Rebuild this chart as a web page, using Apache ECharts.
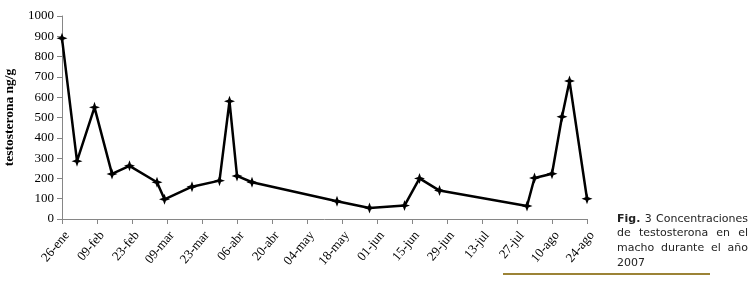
<!DOCTYPE html>
<html><head><meta charset="utf-8">
<script src="https://cdn.jsdelivr.net/npm/echarts@6/dist/echarts.min.js"></script>
<style>html,body{margin:0;padding:0;background:#fff}#c{width:753px;height:283px}</style>
</head><body><div id="c"></div>
<script>
const startDate = '2007-01-26';
const tickLabels = ['26-ene','09-feb','23-feb','09-mar','23-mar','06-abr','20-abr','04-may','18-may','01-jun','15-jun','29-jun','13-jul','27-jul','10-ago','24-ago'];
const sampleDates = ['2007-01-26','2007-02-01','2007-02-08','2007-02-15','2007-02-22','2007-03-05','2007-03-08','2007-03-19','2007-03-30','2007-04-03','2007-04-06','2007-04-12','2007-05-16','2007-05-29','2007-06-12','2007-06-18','2007-06-26','2007-07-31','2007-08-03','2007-08-10','2007-08-14','2007-08-17','2007-08-24'];
const testosterone = [890,285,550,222,262,181,97,159,189,580,212,181,87,54,66,200,140,64,202,223,504,680,100];
const captionLines = [['Fig.', '3', 'Concentraciones'], ['de', 'testosterona', 'en', 'el'], ['macho', 'durante', 'el', 'año'], ['2007']];

const DAY = 86400000;
const t0 = Date.parse(startDate + 'T00:00:00Z');
const dayOf = d => Math.round((Date.parse(d + 'T00:00:00Z') - t0) / DAY);
const seriesData = sampleDates.map((d, i) => [dayOf(d), testosterone[i]]);

const star = 'path://M0,-6 L1.6,-1.6 L6,0 L1.6,1.6 L0,6 L-1.6,1.6 L-6,0 L-1.6,-1.6 Z';

// caption layout (justified like the source)
const capFamily = '"DejaVu Sans"';
const capColor = '#222';
const capLeft = 617, capRight = 748, capTop = 219, capStep = 14.6;
const mctx = document.createElement('canvas').getContext('2d');
mctx.font = '100px ' + capFamily;
const capSize = Math.min(11.2, 92 / mctx.measureText('Concentraciones').width * 100);
function measure(w, bold) { mctx.font = (bold ? 'bold ' : '') + capSize + 'px ' + capFamily; return mctx.measureText(w).width; }
const captionGraphics = [];
captionLines.forEach((words, li) => {
  const y = capTop + li * capStep;
  const widths = words.map((w, wi) => measure(w, li === 0 && wi === 0));
  const total = widths.reduce((a, b) => a + b, 0);
  const last = li === captionLines.length - 1;
  const gap = (last || words.length < 2) ? capSize * 0.3 : (capRight - capLeft - total) / (words.length - 1);
  let x = capLeft;
  words.forEach((w, wi) => {
    captionGraphics.push({ type: 'text', x: x, y: y, style: { text: w, fontSize: capSize, fontFamily: capFamily, fontWeight: (li === 0 && wi === 0) ? 'bold' : 'normal', fill: capColor, align: 'left', verticalAlign: 'middle' } });
    x += widths[wi] + gap;
  });
});

const chart = echarts.init(document.getElementById('c'), null, { renderer: 'canvas' });
chart.setOption({
  animation: false,
  grid: { left: 62, right: 166, top: 16, bottom: 64, outerBoundsMode: 'none', containLabel: false },
  xAxis: {
    type: 'value', min: 0, max: 210, interval: 14,
    axisLine: { show: true, lineStyle: { color: '#868686', width: 1 } },
    axisTick: { show: true, length: 5, lineStyle: { color: '#868686' } },
    splitLine: { show: false },
    axisLabel: {
      rotate: 50, color: '#000', fontFamily: '"Liberation Serif", serif', fontSize: 13, margin: 10,
      align: 'right', verticalAlign: 'top',
      formatter: v => tickLabels[Math.round(v / 14)] || ''
    }
  },
  yAxis: {
    type: 'value', min: 0, max: 1000, interval: 100,
    name: 'testosterona ng/g', nameLocation: 'middle', nameGap: 45,
    nameTextStyle: { color: '#000', fontFamily: '"Liberation Serif", serif', fontWeight: 'bold', fontSize: 13.5 },
    axisLine: { show: true, lineStyle: { color: '#868686', width: 1 } },
    axisTick: { show: true, length: 5, lineStyle: { color: '#868686' } },
    splitLine: { show: false },
    axisLabel: { color: '#000', fontFamily: '"Liberation Serif", serif', fontSize: 13, margin: 8, formatter: v => String(v) }
  },
  series: [{
    type: 'line', data: seriesData,
    lineStyle: { color: '#000', width: 2.5 },
    itemStyle: { color: '#000' },
    symbol: star, symbolSize: 11, showSymbol: true
  }],
  graphic: captionGraphics.concat([
    { type: 'line', shape: { x1: 503, y1: 274, x2: 710, y2: 274 }, style: { stroke: '#9c8336', lineWidth: 2 } }
  ])
});
</script></body></html>
